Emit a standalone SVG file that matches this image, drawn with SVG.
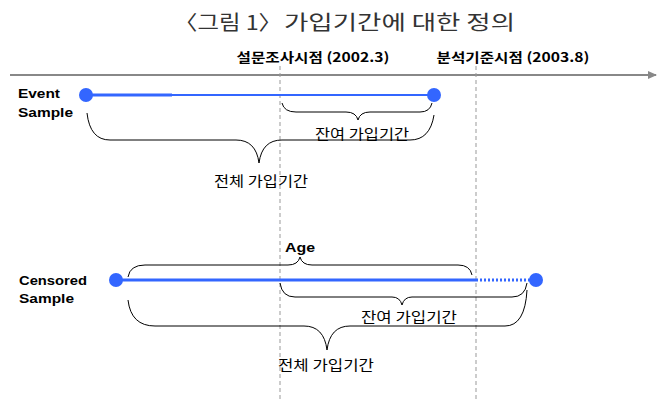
<svg xmlns="http://www.w3.org/2000/svg" width="666" height="399" viewBox="0 0 666 399">
<defs>
<style>
.t{font-family:"Noto Sans CJK KR","Liberation Sans",sans-serif;fill:#000}
.title{font-size:20px;fill:#333}
.lbl{font-family:"Liberation Sans","Noto Sans CJK KR",sans-serif;font-weight:bold;font-size:12px;fill:#000}
.kr{font-size:14px;text-anchor:middle}
.hd{font-size:13px;font-weight:bold;text-anchor:middle}
.brace{fill:none;stroke:#000;stroke-width:1}
.dash{stroke:#999;stroke-width:1;stroke-dasharray:4,3}
.blue{stroke:#3366ff;fill:none}
.dot{fill:#3366ff}
</style>
<marker id="arr" markerWidth="10" markerHeight="10" refX="8" refY="5" orient="auto" markerUnits="userSpaceOnUse">
<path d="M0,1 L9,5 L0,9 Z" fill="#888"/>
</marker>
</defs>
<rect width="666" height="399" fill="#fff"/>
<g id="title">
<text class="t title" x="174" y="30" textLength="108" lengthAdjust="spacingAndGlyphs">〈그림 1〉</text>
<text class="t title" x="284" y="30" textLength="231" lengthAdjust="spacingAndGlyphs">가입기간에 대한 정의</text>
</g>
<g id="connectors">
<line x1="10" y1="75" x2="656" y2="75" stroke="#888" stroke-width="2" marker-end="url(#arr)"/>
<line class="dash" x1="280" y1="66" x2="280" y2="399"/>
<line class="dash" x1="476" y1="66" x2="476" y2="399"/>
</g>
<g id="time-labels">
<text class="t hd" x="313" y="62" textLength="153" lengthAdjust="spacingAndGlyphs">설문조사시점 (2002.3)</text>
<text class="t hd" x="513" y="62" textLength="153" lengthAdjust="spacingAndGlyphs">분석기준시점 (2003.8)</text>
</g>
<g id="event">
<text class="lbl" x="18" y="98" textLength="42" lengthAdjust="spacingAndGlyphs">Event</text>
<text class="lbl" x="18" y="117" textLength="55" lengthAdjust="spacingAndGlyphs">Sample</text>
<line class="blue" x1="86" y1="95" x2="172" y2="95" stroke-width="3"/>
<line class="blue" x1="86" y1="95" x2="434" y2="95" stroke-width="2"/>
<circle class="dot" cx="86" cy="95" r="7"/>
<circle class="dot" cx="434" cy="95" r="7"/>
<path class="brace" d="M282,103 Q284,112 296,112 L346,112 Q356,112 358,120 Q360,112 370,112 L420,112 Q430,112 432,103"/>
<text class="t kr" x="362" y="139" textLength="94" lengthAdjust="spacingAndGlyphs">잔여 가입기간</text>
<path class="brace" d="M87,113 Q90,140 110,140 L236,140 Q256,140 259,163 Q262,140 282,140 L410,140 Q430,140 434,115"/>
<text class="t kr" x="261" y="186" textLength="94" lengthAdjust="spacingAndGlyphs">전체 가입기간</text>
</g>
<g id="censored">
<text class="lbl" x="19" y="285" textLength="68" lengthAdjust="spacingAndGlyphs">Censored</text>
<text class="lbl" x="19" y="303" textLength="55" lengthAdjust="spacingAndGlyphs">Sample</text>
<text class="lbl" x="285" y="252" font-size="13" textLength="30" lengthAdjust="spacingAndGlyphs">Age</text>
<line class="blue" x1="116" y1="280" x2="476" y2="280" stroke-width="3"/>
<line class="blue" x1="476" y1="280" x2="530" y2="280" stroke-width="3" stroke-dasharray="2,2"/>
<circle class="dot" cx="116" cy="280" r="7"/>
<circle class="dot" cx="536" cy="280" r="7"/>
<path class="brace" d="M128,277 Q130,265 145,265 L288,265 Q298,265 300,257 Q302,265 312,265 L458,265 Q470,265 472,275"/>
<path class="brace" d="M280,283 Q282,297 295,297 L392,297 Q400,297 402,305 Q404,297 412,297 L512,297 Q525,297 527,283"/>
<text class="t kr" x="409" y="322" textLength="96" lengthAdjust="spacingAndGlyphs">잔여 가입기간</text>
<path class="brace" d="M128,300 Q131,326 155,326 L304,326 Q324,326 327,350 Q330,326 350,326 L505,326 Q525,326 527,290"/>
<text class="t kr" x="326" y="370" textLength="96" lengthAdjust="spacingAndGlyphs">전체 가입기간</text>
</g>
</svg>
